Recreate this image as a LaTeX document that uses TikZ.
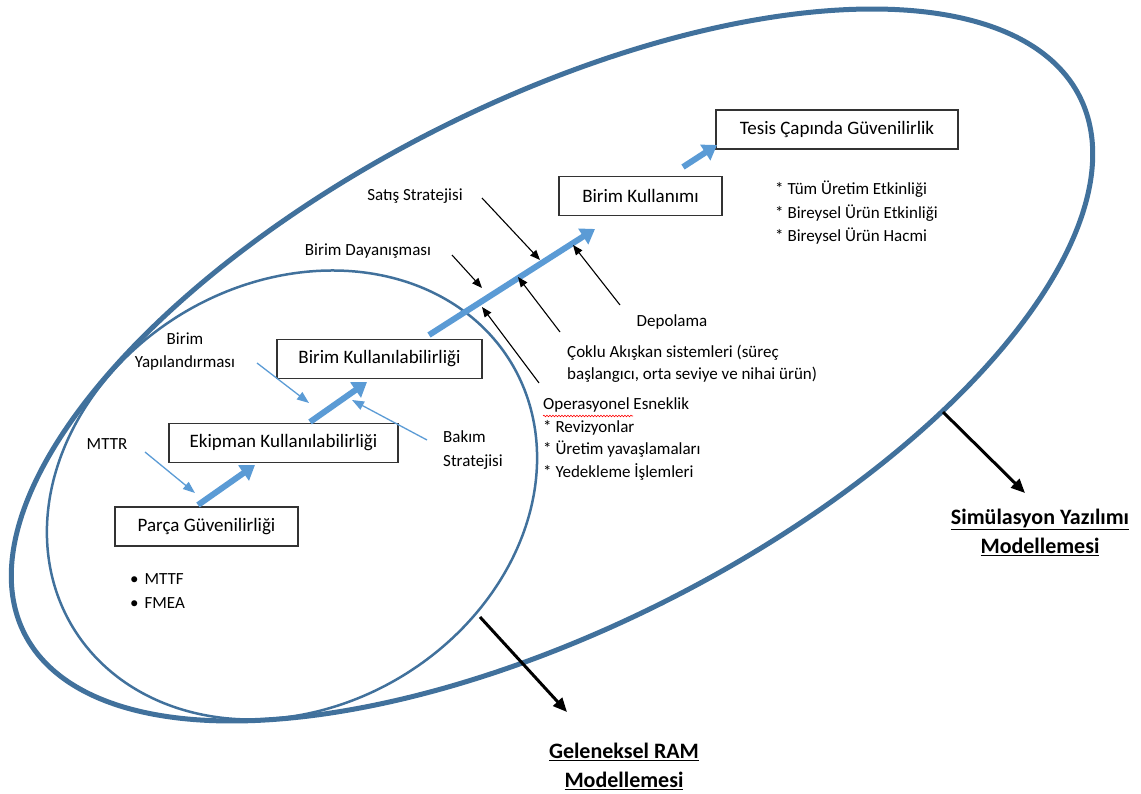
\documentclass[tikz,border=0pt]{standalone}
\usepackage{fontspec}
\setmainfont{Carlito}
\usetikzlibrary{arrows.meta,decorations.pathmorphing}
\definecolor{ringblue}{HTML}{41719C}
\definecolor{flowblue}{HTML}{5B9BD5}
\begin{document}
\begin{tikzpicture}[x=1pt,y=-1pt,
  box/.style={draw=black!80,line width=1.2pt,minimum height=39pt,inner sep=0pt,font=\fontsize{19}{22}\selectfont},
  lbl/.style={font=\fontsize{17}{23}\selectfont,inner sep=0pt},
  title/.style={font=\fontsize{22}{29}\selectfont\bfseries,inner sep=0pt,align=center},
  fat/.style={flowblue,line width=6pt,-{Triangle[length=14pt,width=18pt]}},
  thinb/.style={flowblue,line width=1.3pt,-{Triangle[length=12pt,width=9pt]}},
  blk/.style={black,line width=1.1pt,-{Triangle[length=10pt,width=8pt]}},
  bigblk/.style={black,line width=3pt,-{Triangle[length=14pt,width=12pt]}},
  ring/.style={ringblue,line join=round}
]
\useasboundingbox (0,0) rectangle (1141,794);
% outer ellipse
\draw[ring,line width=5pt] plot[variable=\t,domain=0:358,samples=180,smooth cycle]
  ({552+592*cos(\t)*cos(27)+262*sin(\t)*sin(27)},{365-592*cos(\t)*sin(27)+262*sin(\t)*cos(27)});
% inner ellipse
\draw[ring,line width=2.5pt] plot[variable=\t,domain=0:358,samples=180,smooth cycle]
  ({292+256*cos(\t)*cos(31)+212*sin(\t)*sin(31)},{495-256*cos(\t)*sin(31)+212*sin(\t)*cos(31)});

% boxes
\node[box,minimum width=242pt] (tesis) at (837,129.5) {Tesis Çapında Güvenilirlik};
\node[box,minimum width=163pt] (kullanim) at (640.5,196) {Birim Kullanımı};
\node[box,minimum width=205pt] (bkab) at (379.5,359) {Birim Kullanılabilirliği};
\node[box,minimum width=229pt] (ekip) at (283.5,443) {Ekipman Kullanılabilirliği};
\node[box,minimum width=183pt] (parca) at (206.5,526.5) {Parça Güvenilirliği};

% labels
\node[lbl] (satis) at (415,196) {Satış Stratejisi};
\node[lbl] (dayan) at (368,251) {Birim Dayanışması};
\node[lbl] (depo) at (672,322) {Depolama};
\node[lbl,anchor=west,align=left,font=\fontsize{17}{22}\selectfont] (coklu) at (567,364) {Çoklu Akışkan sistemleri (süreç\\başlangıcı, orta seviye ve nihai ürün)};
\node[lbl,anchor=west,align=left,font=\fontsize{17}{22.7}\selectfont] (opera) at (543,439) {Operasyonel Esneklik\\* Revizyonlar\\* Üretim yavaşlamaları\\* Yedekleme İşlemleri};
\node[lbl,anchor=west,align=left,font=\fontsize{17}{23.5}\selectfont] (tum) at (775,213) {* Tüm Üretim Etkinliği\\* Bireysel Ürün Etkinliği\\* Bireysel Ürün Hacmi};
\node[lbl,align=center] (yapi) at (185,351.5) {Birim\\Yapılandırması};
\node[lbl] (mttr) at (107,444) {MTTR};
\node[lbl,anchor=west,align=left,font=\fontsize{17}{24}\selectfont] (bakim) at (443,450) {Bakım\\Stratejisi};
\node[lbl,anchor=west,align=left,font=\fontsize{17}{24}\selectfont] (mttf) at (130,591) {•\hspace{6pt}MTTF\\•\hspace{6pt}FMEA};
\node[title] (gelen) at (624,766) {\underline{Geleneksel RAM}\\\underline{Modellemesi}};
\node[title] (simu) at (1040,532) {\underline{Simülasyon Yazılımı}\\\underline{Modellemesi}};

% spell-check squiggle
\coordinate (sq1) at (543,416);
\coordinate (sq2) at (633,416);
\draw[red,line width=0.6pt,decorate,decoration={snake,amplitude=0.8pt,segment length=3pt}] (sq1) -- (sq2);

% coordinates for connector ends
\coordinate (f1s) at (198,505); \coordinate (f1e) at (255,465);
\coordinate (f2s) at (310,422); \coordinate (f2e) at (367,382);
\coordinate (f3s) at (429,335); \coordinate (f3e) at (595,229);
\coordinate (f4s) at (683,167); \coordinate (f4e) at (717,145);

\coordinate (m1s) at (145,452); \coordinate (m1e) at (195,493);
\coordinate (y1s) at (257,363); \coordinate (y1e) at (309,403);
\coordinate (b1s) at (427,440); \coordinate (b1e) at (352,400);

\coordinate (s1s) at (482,198); \coordinate (s1e) at (540,260);
\coordinate (d1s) at (452,255); \coordinate (d1e) at (482,288);
\coordinate (p1s) at (620,305); \coordinate (p1e) at (573,245);
\coordinate (c1s) at (560,332); \coordinate (c1e) at (518,277);
\coordinate (o1s) at (539,383); \coordinate (o1e) at (482,307);

\coordinate (g1s) at (480,617); \coordinate (g1e) at (567,712);
\coordinate (z1s) at (943,412); \coordinate (z1e) at (1025,493);

% fat flow arrows
\draw[fat] (f1s) -- (f1e);
\draw[fat] (f2s) -- (f2e);
\draw[fat] (f3s) -- (f3e);
\draw[fat] (f4s) -- (f4e);

% thin blue arrows
\draw[thinb] (m1s) -- (m1e);
\draw[thinb] (y1s) -- (y1e);
\draw[thinb] (b1s) -- (b1e);

% thin black arrows
\draw[blk] (s1s) -- (s1e);
\draw[blk] (d1s) -- (d1e);
\draw[blk] (p1s) -- (p1e);
\draw[blk] (c1s) -- (c1e);
\draw[blk] (o1s) -- (o1e);

% big black arrows
\draw[bigblk] (g1s) -- (g1e);
\draw[bigblk] (z1s) -- (z1e);
\end{tikzpicture}
\end{document}
